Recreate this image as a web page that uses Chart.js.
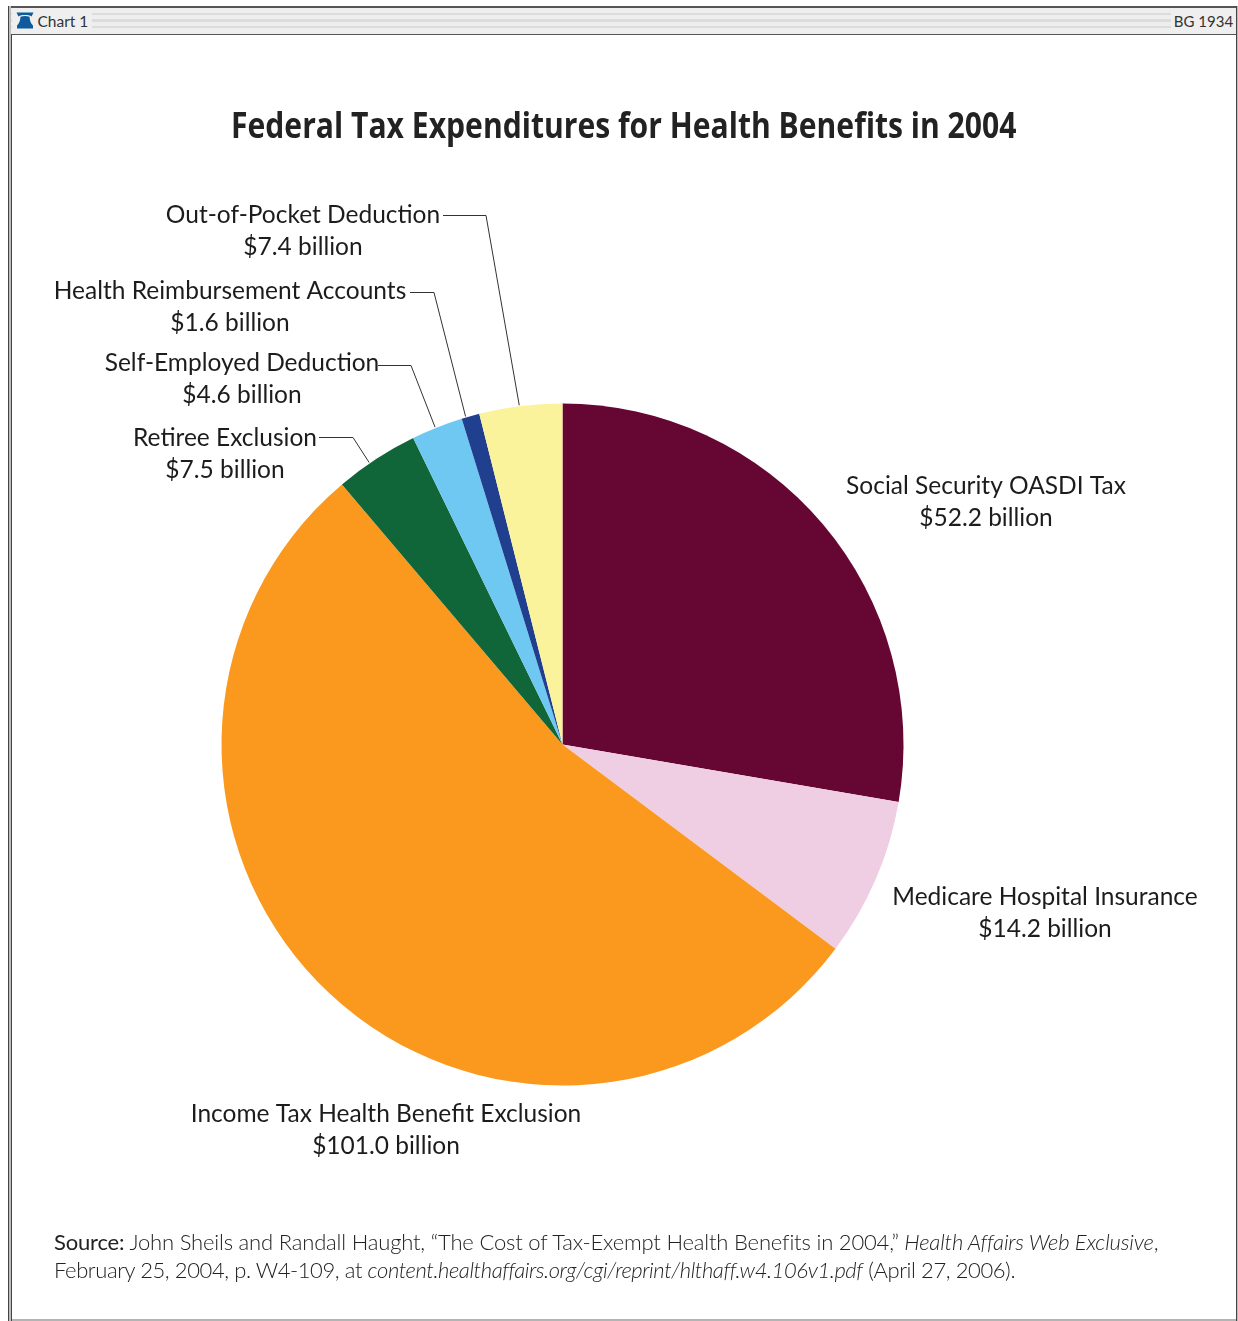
<!DOCTYPE html>
<html>
<head>
<meta charset="utf-8">
<title>Federal Tax Expenditures for Health Benefits in 2004</title>
<script src="https://cdn.jsdelivr.net/npm/chart.js@4/dist/chart.umd.min.js"></script>
<style>
  html, body { margin: 0; background: #fff; }
  #page { position: relative; width: 1238px; height: 1321px; overflow: hidden; font-family: Lato, sans-serif; color: #222; }
  #pie { position: absolute; left: 0; top: 0; }
  /* frame and header strip */
  #sideL { position: absolute; left: 8px; top: 6px; width: 2px; height: 1315px; background: #bdbdbd; border-left: 1px solid #444; }
  #sideL2 { position: absolute; left: 11px; top: 34px; width: 1px; height: 1287px; background: #444; }
  #sideR { position: absolute; left: 1236px; top: 6px; width: 1px; height: 1315px; background: #444; border-right: 1px solid #bdbdbd; }
  #topLine { position: absolute; left: 8px; top: 6px; width: 1229px; height: 2px; background: #555; }
  #headLine { position: absolute; left: 11px; top: 34px; width: 1226px; height: 1px; background: #555; }
  #bottomLine { position: absolute; left: 12px; top: 1319px; width: 1224px; height: 2px; background: #b4b4b4; }
  #strip { position: absolute; left: 9px; top: 8px; width: 1227px; height: 26px;
    background: linear-gradient(#eee 0 5px, #dcdcdc 5px 7px, #eee 7px 11px, #dcdcdc 11px 14px, #eee 14px 18px, #dcdcdc 18px 20px, #eee 20px); }
  .tab { position: absolute; top: 8px; height: 26px; line-height: 26px; background: #efefef; font-size: 15.5px; color: #333; }
  #tabL { left: 12px; width: 80px; }
  #tabL span { position: absolute; left: 25.5px; }
  #tabL svg { position: absolute; left: 4px; top: 4px; }
  #tabR { left: 1171px; width: 65px; text-align: center; font-size: 15px; }
  #title { position: absolute; left: 231px; top: 100px; font: 700 36px "Open Sans", sans-serif; color: #222; white-space: nowrap; transform-origin: 0 0; transform: scaleX(0.836); }
  #source { position: absolute; left: 54px; top: 1228px; font-size: 22px; font-weight: 300; line-height: 28px; color: #222; white-space: nowrap; }
  #source b { font-weight: 400; }
  #source .first { letter-spacing: -0.18px; }
  #source .second { letter-spacing: -0.41px; }
</style>
</head>
<body>
<div id="page">
  <canvas id="pie" width="1238" height="1321"></canvas>
  <div id="strip"></div>
  <div id="topLine"></div>
  <div id="headLine"></div>
  <div id="sideL"></div>
  <div id="sideL2"></div>
  <div id="sideR"></div>
  <div id="bottomLine"></div>
  <div class="tab" id="tabL">
    <svg width="18" height="17" viewBox="0 0 18 17">
      <path fill="#0f5a9c" d="M0.5 0.5H17.5L15.5 4.5C13 2.6 5 2.6 2.5 4.5Z"/>
      <path fill="#0f5a9c" d="M4.5 4.8C7 3.8 11 3.8 13.5 4.8C13.8 9 15 12 17 13.5V16.5H1V13.5C3 12 4.2 9 4.5 4.8Z"/>
    </svg>
    <span>Chart 1</span>
  </div>
  <div class="tab" id="tabR">BG 1934</div>
  <div id="title">Federal Tax Expenditures for Health Benefits in 2004</div>
  <div id="source"><span class="first"><b>Source:</b> John Sheils and Randall Haught, “The Cost of Tax-Exempt Health Benefits in 2004,” <i>Health Affairs Web Exclusive</i>,</span><br><span class="second">February 25, 2004, p. W4-109, at <i>content.healthaffairs.org/cgi/reprint/hlthaff.w4.106v1.pdf</i> (April 27, 2006).</span></div>
</div>

<script>
// Tax expenditures in billions of dollars, clockwise from twelve o'clock
const categories = [
  'Social Security OASDI Tax',
  'Medicare Hospital Insurance',
  'Income Tax Health Benefit Exclusion',
  'Retiree Exclusion',
  'Self-Employed Deduction',
  'Health Reimbursement Accounts',
  'Out-of-Pocket Deduction'
];
const amounts = [52.2, 14.2, 101.0, 7.5, 4.6, 1.6, 7.4];
const sliceColors = ['#660633', '#efcde2', '#fa991d', '#106639', '#6fc8f2', '#213f8f', '#fbf29c'];

// Where each two-line label is centred: [x, first line y]
const labelSpots = [[986, 485], [1045, 896], [386, 1113], [225, 437], [242, 362], [230, 290], [303, 214]];
// Leader start, elbow and how far (degrees) the tip sits from the slice's middle
const leaders = {
  3: { from: [319, 437], elbow: [353, 437], tilt: -1.3 },
  4: { from: [378, 365], elbow: [411, 365], tilt: -0.3 },
  5: { from: [410, 292], elbow: [434, 292], tilt: -0.8 },
  6: { from: [443, 215], elbow: [486, 215], tilt: -0.2 }
};
const lineGap = 32;

const sliceLabels = {
  id: 'sliceLabels',
  afterDatasetsDraw(chart) {
    const ctx = chart.ctx;
    const arcs = chart.getDatasetMeta(0).data;
    ctx.save();

    ctx.strokeStyle = '#333';
    ctx.lineWidth = 1;
    Object.keys(leaders).forEach((i) => {
      const { x, y, startAngle, endAngle, outerRadius } = arcs[i].getProps(['x', 'y', 'startAngle', 'endAngle', 'outerRadius'], true);
      const { from, elbow, tilt } = leaders[i];
      const tip = (startAngle + endAngle) / 2 + tilt * Math.PI / 180;
      ctx.beginPath();
      ctx.moveTo(from[0], from[1] + 0.5);
      ctx.lineTo(elbow[0], elbow[1] + 0.5);
      ctx.lineTo(x + Math.cos(tip) * (outerRadius + 1), y + Math.sin(tip) * (outerRadius + 1));
      ctx.stroke();
    });

    ctx.fillStyle = '#1c1c1c';
    ctx.font = '24.5px Lato, sans-serif';
    ctx.textAlign = 'center';
    ctx.textBaseline = 'middle';
    categories.forEach((name, i) => {
      const [cx, cy] = labelSpots[i];
      ctx.fillText(name, cx, cy + 1);
      ctx.fillText('$' + amounts[i].toFixed(1) + ' billion', cx, cy + lineGap + 1);
    });
    ctx.restore();
  }
};

new Chart(document.getElementById('pie').getContext('2d'), {
  type: 'pie',
  data: {
    labels: categories,
    datasets: [{
      data: amounts,
      backgroundColor: sliceColors,
      borderWidth: 0
    }]
  },
  options: {
    responsive: false,
    animation: false,
    // leaves a 682px pie centred on (562.5, 744.5)
    layout: { padding: { left: 221.5, right: 334.5, top: 403.5, bottom: 235.5 } },
    plugins: {
      legend: { display: false },
      tooltip: { enabled: false }
    }
  },
  plugins: [sliceLabels]
});
</script>
</body>
</html>
